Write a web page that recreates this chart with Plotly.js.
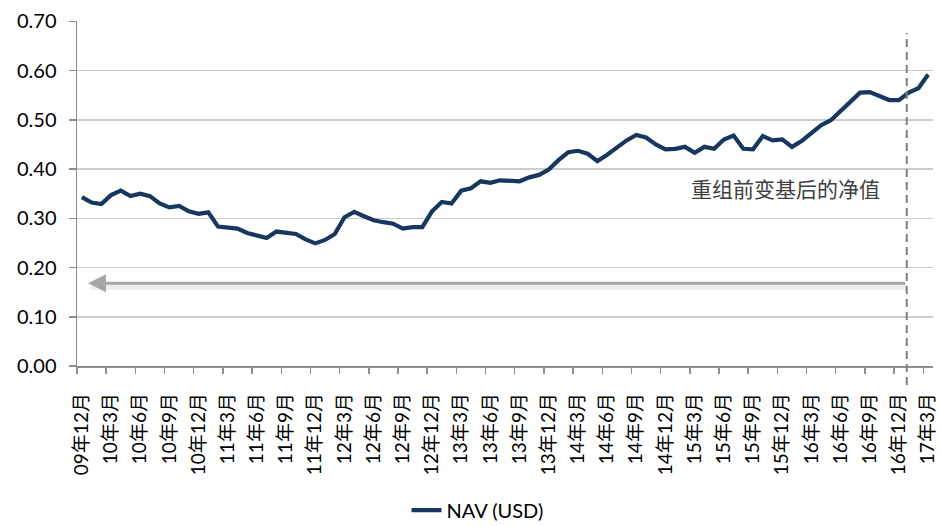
<!DOCTYPE html>
<html>
<head>
<meta charset="utf-8">
<script src="https://cdn.plot.ly/plotly-3.0.1.min.js"></script>
<style>html,body{margin:0;padding:0;background:#fff;}#chart{width:940px;height:526px;}</style>
</head>
<body>
<div id="chart"></div>
<script>
var months = [
  "09年12月",
  "10年1月","10年2月","10年3月","10年4月","10年5月","10年6月","10年7月","10年8月","10年9月","10年10月","10年11月","10年12月",
  "11年1月","11年2月","11年3月","11年4月","11年5月","11年6月","11年7月","11年8月","11年9月","11年10月","11年11月","11年12月",
  "12年1月","12年2月","12年3月","12年4月","12年5月","12年6月","12年7月","12年8月","12年9月","12年10月","12年11月","12年12月",
  "13年1月","13年2月","13年3月","13年4月","13年5月","13年6月","13年7月","13年8月","13年9月","13年10月","13年11月","13年12月",
  "14年1月","14年2月","14年3月","14年4月","14年5月","14年6月","14年7月","14年8月","14年9月","14年10月","14年11月","14年12月",
  "15年1月","15年2月","15年3月","15年4月","15年5月","15年6月","15年7月","15年8月","15年9月","15年10月","15年11月","15年12月",
  "16年1月","16年2月","16年3月","16年4月","16年5月","16年6月","16年7月","16年8月","16年9月","16年10月","16年11月","16年12月",
  "17年1月","17年2月","17年3月"
];

var nav = [
  0.343,0.332,0.329,0.347,0.356,0.345,0.350,0.345,0.330,0.322,
  0.325,0.314,0.309,0.312,0.283,0.281,0.279,0.270,0.266,0.260,
  0.273,0.271,0.268,0.257,0.249,0.256,0.268,0.302,0.313,0.304,
  0.296,0.292,0.289,0.279,0.282,0.282,0.314,0.333,0.330,0.356,
  0.361,0.375,0.372,0.377,0.376,0.375,0.383,0.388,0.399,0.418,
  0.434,0.437,0.431,0.416,0.429,0.444,0.458,0.469,0.464,0.450,
  0.440,0.441,0.445,0.433,0.445,0.441,0.460,0.468,0.441,0.440,
  0.467,0.458,0.460,0.445,0.457,0.473,0.489,0.499,0.517,0.536,
  0.555,0.556,0.548,0.540,0.540,0.555,0.564,0.592
];

var seriesName = "NAV (USD)";
var noteText = "重组前变基后的净值";
var yTicks = [0, 0.1, 0.2, 0.3, 0.4, 0.5, 0.6, 0.7];

var xIdx = months.map(function(m, i){ return i; });
var tickIdx = xIdx.filter(function(i){ return i % 3 === 0; });
var tickLabels = tickIdx.map(function(i){ return months[i]; });

var restructIdx = 84.8;   // dashed marker position (between 16年12月 and 17年1月)
var arrowLevel = 0.168;

var trace = {
  x: xIdx,
  y: nav,
  type: 'scatter',
  mode: 'lines',
  name: seriesName,
  line: {color: '#17375E', width: 4.2},
  text: months,
  hoverinfo: 'text+y'
};

var layout = {
  width: 940, height: 526,
  margin: {l: 77, r: 7, t: 21, b: 160, autoexpand: false},
  paper_bgcolor: '#ffffff',
  plot_bgcolor: '#ffffff',
  font: {family: 'Lato, "Noto Sans CJK SC", sans-serif', color: '#000000', size: 20},
  showlegend: true,
  legend: {
    orientation: 'h', xref: 'container', yref: 'container',
    x: 0.508, xanchor: 'center', y: 0.03, yanchor: 'middle',
    font: {family: 'Lato, "Noto Sans CJK SC", sans-serif', size: 20, color: '#000'}
  },
  xaxis: {
    range: [-0.5, 87.5],
    tickmode: 'array',
    tickvals: tickIdx,
    ticktext: tickLabels,
    tickangle: -90,
    ticks: 'outside',
    ticklen: 6,
    tickcolor: 'rgba(0,0,0,0)',
    ticklabelstandoff: 12,
    tickfont: {family: 'Lato, "Noto Sans CJK SC", sans-serif', size: 19, color: '#000'},
    showgrid: false,
    zeroline: false,
    showline: true,
    linecolor: '#8c8c8c',
    linewidth: 1.5,
    minor: {tickmode: 'linear', tick0: -0.5, dtick: 3, ticks: 'outside', ticklen: 6, tickcolor: '#8c8c8c', tickwidth: 1.5, showgrid: false}
  },
  yaxis: {
    range: [0, 0.7005],
    tickmode: 'array',
    tickvals: yTicks,
    tickformat: '.2f',
    ticks: 'outside',
    ticklen: 7,
    tickcolor: '#8c8c8c',
    tickwidth: 1.5,
    ticklabelstandoff: 8,
    tickfont: {family: 'Lato, sans-serif', size: 20, color: '#000'},
    showgrid: true,
    gridcolor: '#cccccc',
    gridwidth: 1.5,
    zeroline: false,
    showline: true,
    linecolor: '#8c8c8c',
    linewidth: 1.5
  },
  shapes: [
    {type: 'line', xref: 'x', yref: 'y', x0: 0.9, x1: restructIdx, y0: arrowLevel - 0.007, y1: arrowLevel - 0.007,
     line: {color: 'rgba(0,0,0,0.07)', width: 6}, layer: 'below'},
    {type: 'line', xref: 'x', yref: 'paper', x0: restructIdx, x1: restructIdx, y0: -0.055, y1: 0.965,
     line: {color: '#7f7f7f', width: 2, dash: '8px,5px'}, layer: 'above'}
  ],
  annotations: [
    {x: 0.63, y: arrowLevel, xref: 'x', yref: 'y', ax: restructIdx, ay: arrowLevel, axref: 'x', ayref: 'y',
     text: '', showarrow: true, arrowhead: 2, arrowsize: 1.2, arrowwidth: 3, arrowcolor: '#a6a6a6', standoff: 0},
    {x: 72.3, y: 0.361, xref: 'x', yref: 'y', text: noteText, showarrow: false,
     font: {family: '"Noto Sans CJK SC", sans-serif', size: 21, color: '#404040'}, xanchor: 'center', yanchor: 'middle'}
  ]
};

Plotly.newPlot('chart', [trace], layout, {displayModeBar: false, staticPlot: true});
</script>
</body>
</html>
